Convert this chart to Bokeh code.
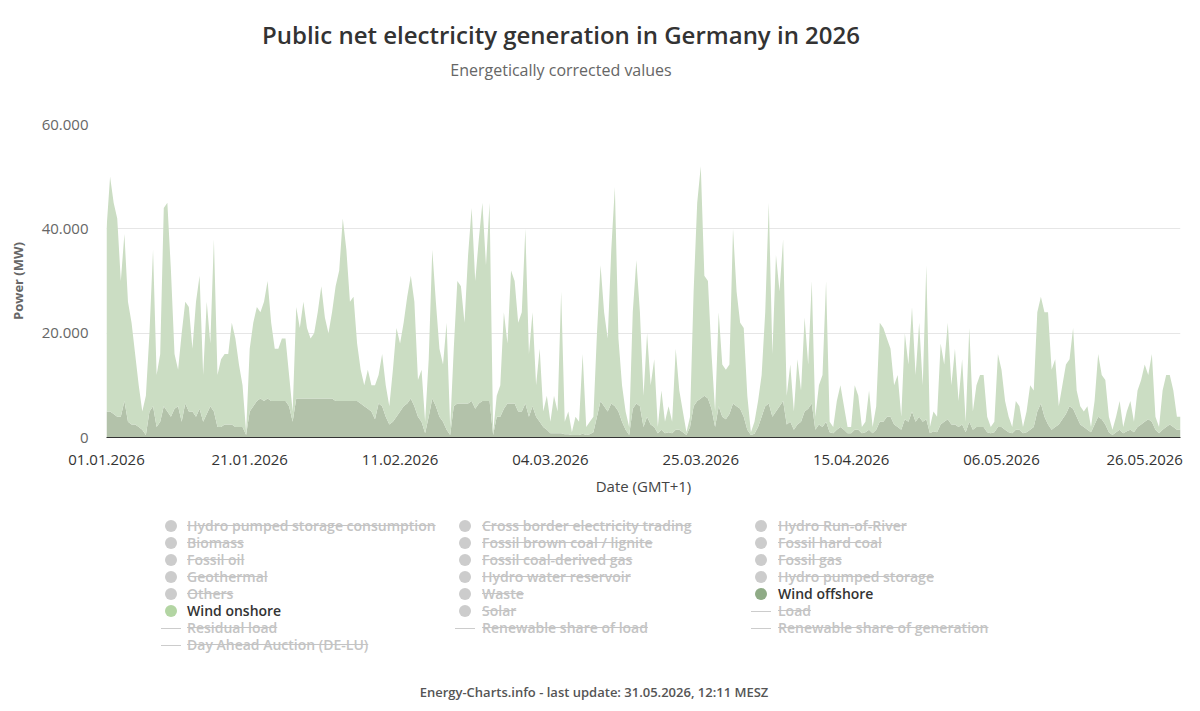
import pandas as pd
from bokeh.plotting import figure
from bokeh.models import ColumnDataSource, FixedTicker, DatetimeTickFormatter, Range1d, Div
from bokeh.layouts import column
from bokeh.embed import file_html
from bokeh.resources import INLINE

# ---------------- data (MW, 12-hourly from 01.01.2026 00:00) ----------------
series_start = "2026-01-01 00:00"
series_step = "12h"

wind_onshore = [
    35000, 45000, 40500, 38000, 26000, 32000, 23000, 19500, 13500, 8000,
    3500, 7500, 15000, 30000, 10000, 13000, 38000, 40000, 28000, 10500,
    7000, 17000, 19500, 20000, 12000, 22000, 25500, 9000, 21500, 12000,
    33000, 10000, 13000, 13500, 13500, 19500, 17000, 12000, 8000, 500,
    12000, 16000, 18000, 16500, 19000, 22500, 15000, 10000, 10000, 12000,
    12000, 6000, 2000, 17500, 13500, 18500, 13500, 11500, 12500, 16500,
    21500, 15500, 12500, 16500, 22000, 25000, 35000, 29000, 19000, 20000,
    11000, 6500, 4000, 7500, 5000, 6500, 5500, 10000, 6000, 3500,
    10000, 17000, 13000, 16000, 20500, 23500, 20000, 7000, 10000, 2200,
    11000, 28500, 20000, 13000, 11000, 20500, 1500, 11000, 23500, 22500,
    15500, 28500, 37000, 24500, 31500, 38000, 26000, 38000, 500, 4000,
    6000, 18500, 11500, 25500, 23500, 17000, 19000, 33500, 12000, 18000,
    6000, 14000, 3000, 6500, 2200, 7200, 4200, 27200, 2400, 4400,
    500, 3500, 2500, 15300, 1500, 2400, 3000, 16000, 26000, 18000,
    14000, 29500, 42000, 14000, 7000, 3500, 1500, 18500, 27500, 18000,
    6000, 16000, 7500, 13000, 1200, 7500, 2200, 5000, 2200, 15500,
    7500, 4000, 500, 2000, 22000, 38000, 44500, 23000, 22500, 10500,
    3000, 18000, 10000, 9500, 9500, 33500, 22000, 16500, 17000, 6500,
    500, 2300, 5000, 8000, 18000, 38500, 12000, 30000, 22000, 31000,
    5500, 11000, 3500, 12500, 6000, 18000, 8500, 23500, 2500, 7500,
    10000, 27000, 2000, 1200, 5500, 8000, 4500, 1200, 1200, 8500,
    6500, 1200, 2000, 7500, 1200, 4500, 19000, 18000, 15000, 13000,
    7500, 10000, 2500, 16500, 11000, 20000, 9000, 18000, 7000, 29500,
    1200, 3800, 3000, 15500, 11000, 18500, 7500, 14500, 5000, 12500,
    2000, 18000, 3500, 8000, 10000, 10000, 3000, 1200, 2000, 14000,
    11000, 5500, 3000, 1200, 5500, 4500, 1200, 4000, 8500, 7000,
    19000, 20500, 20000, 21500, 11500, 13000, 3500, 6500, 9500, 9000,
    15500, 5000, 3500, 3000, 4500, 1000, 4500, 12000, 8500, 8500,
    3000, 1000, 3000, 5500, 1200, 3800, 5500, 2000, 7000, 8500,
    11000, 8500, 13000, 2500, 1200, 7500, 10000, 9500, 7000, 2500,
    2500,
]

wind_offshore = [
    5000, 5000, 4500, 4000, 4000, 7000, 3000, 2500, 2500, 2000,
    1500, 500, 5000, 6000, 2000, 3000, 6000, 5000, 4000, 5500,
    6000, 3000, 6500, 5000, 5000, 4000, 5500, 3000, 4500, 6000,
    5000, 2000, 2000, 2500, 2500, 2500, 2000, 2000, 2000, 500,
    5000, 6000, 7000, 7500, 7000, 7500, 7000, 7000, 7000, 7000,
    7000, 6000, 3000, 7500, 7500, 7500, 7500, 7500, 7500, 7500,
    7500, 7500, 7500, 7500, 7000, 7000, 7000, 7000, 7000, 7000,
    7000, 6500, 6000, 5500, 5000, 3500, 6500, 6000, 4000, 2500,
    3000, 4000, 5000, 6000, 6500, 7500, 6000, 4000, 3000, 800,
    4000, 7500, 6000, 4000, 3000, 1500, 500, 6000, 6500, 6500,
    6500, 6500, 7000, 5500, 6500, 7000, 7000, 7000, 500, 4000,
    4000, 5500, 6500, 6500, 6500, 5000, 5000, 6500, 4000, 6000,
    4000, 3000, 2000, 1500, 800, 800, 800, 800, 600, 600,
    500, 500, 500, 700, 500, 600, 1000, 4000, 7000, 6000,
    5000, 6500, 6000, 5000, 3000, 1500, 500, 5500, 6500, 6000,
    2000, 4000, 2500, 2000, 800, 1500, 800, 1000, 800, 1500,
    1500, 1000, 500, 2000, 6000, 7000, 7500, 8000, 7500, 5500,
    2000, 6000, 4000, 3500, 4500, 6500, 6000, 5500, 4000, 1500,
    500, 700, 2000, 4000, 6000, 6500, 4000, 5000, 6000, 7000,
    2500, 3000, 1500, 2500, 3000, 5000, 5500, 6500, 1500, 2500,
    2000, 3000, 1000, 800, 1500, 2000, 1500, 800, 800, 1500,
    1500, 800, 1000, 1500, 800, 1500, 3000, 3000, 4000, 4000,
    2500, 2000, 1500, 3500, 3000, 5000, 3000, 4000, 3000, 3500,
    800, 1200, 1000, 2500, 3000, 3500, 2500, 2500, 2000, 2500,
    1000, 3000, 1500, 2000, 2000, 2000, 1000, 800, 1000, 2000,
    2000, 1500, 1000, 800, 1500, 1500, 800, 1000, 1500, 2000,
    5000, 6500, 4000, 2500, 1500, 2000, 2500, 3500, 4500, 6000,
    5500, 4000, 2500, 2000, 1500, 1000, 2500, 4000, 3500, 2500,
    1000, 500, 1000, 1500, 800, 1200, 1500, 1000, 2000, 2500,
    3000, 3500, 3000, 1500, 800, 1500, 2000, 2500, 2000, 1500,
    1500,
]

x_tick_dates = ["2026-01-01", "2026-01-21", "2026-02-11", "2026-03-04",
                "2026-03-25", "2026-04-15", "2026-05-06", "2026-05-26"]
y_ticks = [0, 20000, 40000, 60000]
y_tick_labels = ["0", "20.000", "40.000", "60.000"]

legend_items = [
    ("Hydro pumped storage consumption", "circle", False),
    ("Cross border electricity trading", "circle", False),
    ("Hydro Run-of-River", "circle", False),
    ("Biomass", "circle", False),
    ("Fossil brown coal / lignite", "circle", False),
    ("Fossil hard coal", "circle", False),
    ("Fossil oil", "circle", False),
    ("Fossil coal-derived gas", "circle", False),
    ("Fossil gas", "circle", False),
    ("Geothermal", "circle", False),
    ("Hydro water reservoir", "circle", False),
    ("Hydro pumped storage", "circle", False),
    ("Others", "circle", False),
    ("Waste", "circle", False),
    ("Wind offshore", "circle", True),
    ("Wind onshore", "circle", True),
    ("Solar", "circle", False),
    ("Load", "line", False),
    ("Residual load", "line", False),
    ("Renewable share of load", "line", False),
    ("Renewable share of generation", "line", False),
    ("Day Ahead Auction (DE-LU)", "line", False),
]

title_text = "Public net electricity generation in Germany in 2026"
subtitle_text = "Energetically corrected values"
footer_text = "Energy-Charts.info - last update: 31.05.2026, 12:11 MESZ"

# ---------------- styling ----------------
FONT = "'Open Sans', 'Noto Sans', sans-serif"
ON_FILL = "#cbddc3"
OFF_FILL = "#b3c2aa"
ON_MARK = "#b3d5a3"
OFF_MARK = "#8fab86"
HIDDEN = "#c4c4c4"

dates = pd.date_range(series_start, periods=len(wind_onshore), freq=series_step)
src = ColumnDataSource(dict(date=dates, wind_offshore=wind_offshore, wind_onshore=wind_onshore))

p = figure(width=1200, height=410, x_axis_type="datetime",
           x_range=Range1d(pd.Timestamp("2026-01-01"), pd.Timestamp("2026-05-31")),
           y_range=Range1d(0, 60000),
           output_backend="svg", toolbar_location=None,
           min_border_left=106, min_border_right=20, min_border_top=24, min_border_bottom=73)
p.outline_line_color = None
p.background_fill_color = "white"
p.border_fill_color = "white"

p.varea_stack(["wind_offshore", "wind_onshore"], x="date", color=[OFF_FILL, ON_FILL], source=src)

p.xgrid.grid_line_color = None
p.ygrid.grid_line_color = "#e6e6e6"
p.ygrid.grid_line_width = 1

p.yaxis.ticker = FixedTicker(ticks=y_ticks)
p.yaxis.major_label_overrides = dict(zip(y_ticks, y_tick_labels))
p.yaxis.axis_line_color = None
p.yaxis.major_tick_line_color = None
p.yaxis.minor_tick_line_color = None
p.yaxis.major_tick_out = 0
p.yaxis.major_label_standoff = 18
p.yaxis.major_label_text_font = "Open Sans"
p.yaxis.major_label_text_font_size = "15px"
p.yaxis.major_label_text_color = "#666666"
p.yaxis.axis_label = "Power (MW)"
p.yaxis.axis_label_text_font = "Open Sans"
p.yaxis.axis_label_text_font_size = "13px"
p.yaxis.axis_label_text_font_style = "bold"
p.yaxis.axis_label_text_color = "#666666"
p.yaxis.axis_label_standoff = 12

tick_ms = [pd.Timestamp(d).value // 10**6 for d in x_tick_dates]
p.xaxis.ticker = FixedTicker(ticks=tick_ms)
fmt = "%d.%m.%Y"
p.xaxis.formatter = DatetimeTickFormatter(milliseconds=fmt, seconds=fmt, minsec=fmt, minutes=fmt,
                                          hourmin=fmt, hours=fmt, days=fmt, months=fmt, years=fmt)
p.xaxis.axis_line_color = "#333333"
p.xaxis.axis_line_width = 1
p.xaxis.major_tick_line_color = None
p.xaxis.minor_tick_line_color = None
p.xaxis.major_tick_out = 0
p.xaxis.major_label_standoff = 17
p.xaxis.major_label_text_font = "Open Sans"
p.xaxis.major_label_text_font_size = "15px"
p.xaxis.major_label_text_color = "#333333"
p.xaxis.axis_label = "Date (GMT+1)"
p.xaxis.axis_label_text_font = "Open Sans"
p.xaxis.axis_label_text_font_size = "15px"
p.xaxis.axis_label_text_font_style = "normal"
p.xaxis.axis_label_text_color = "#444444"
p.xaxis.axis_label_standoff = 8

# ---------------- header ----------------
header_html = f"""
<div style="position:relative;width:1200px;height:100px;font-family:{FONT};background:white;">
  <div style="position:absolute;left:0;top:19px;width:1122px;text-align:center;font-size:24px;line-height:32px;font-weight:600;color:#333333;white-space:nowrap;">{title_text}</div>
  <div style="position:absolute;left:0;top:59px;width:1122px;text-align:center;font-size:16px;line-height:22px;color:#666666;white-space:nowrap;">{subtitle_text}</div>
</div>"""
header = Div(text=header_html, width=1200, height=100, margin=0)

# ---------------- legend + footer ----------------
col_marker_x = [171, 465, 761]
col_text_x = [187, 482, 778]
row_y0 = 16
row_dy = 17
parts = []
for k, (name, kind, visible) in enumerate(legend_items):
    r, c = divmod(k, 3)
    cy = row_y0 + r * row_dy
    if name == "Wind onshore":
        mcol = ON_MARK
    elif name == "Wind offshore":
        mcol = OFF_MARK
    else:
        mcol = "#cccccc"
    if kind == "circle":
        parts.append(f'<div style="position:absolute;left:{col_marker_x[c]-6}px;top:{cy-6}px;width:12px;height:12px;border-radius:6px;background:{mcol};"></div>')
    else:
        parts.append(f'<div style="position:absolute;left:{col_marker_x[c]-10}px;top:{cy}px;width:20px;height:1px;background:#cccccc;"></div>')
    tcol = "#333333" if visible else HIDDEN
    deco = "none" if visible else "line-through"
    parts.append(f'<div style="position:absolute;left:{col_text_x[c]}px;top:{cy-9}px;font-size:14px;line-height:18px;font-weight:600;color:{tcol};text-decoration:{deco};white-space:nowrap;">{name}</div>')

footer_html = f"""
<div style="position:relative;width:1200px;height:201px;font-family:{FONT};background:white;">
  {''.join(parts)}
  <div style="position:absolute;left:0;top:173px;width:1188px;text-align:center;font-size:13px;line-height:18px;font-weight:600;color:#555555;white-space:nowrap;">{footer_text}</div>
</div>"""
footer = Div(text=footer_html, width=1200, height=201, margin=0)

layout = column(header, p, footer, spacing=0)
open("out.html", "w").write(file_html(layout, INLINE))
